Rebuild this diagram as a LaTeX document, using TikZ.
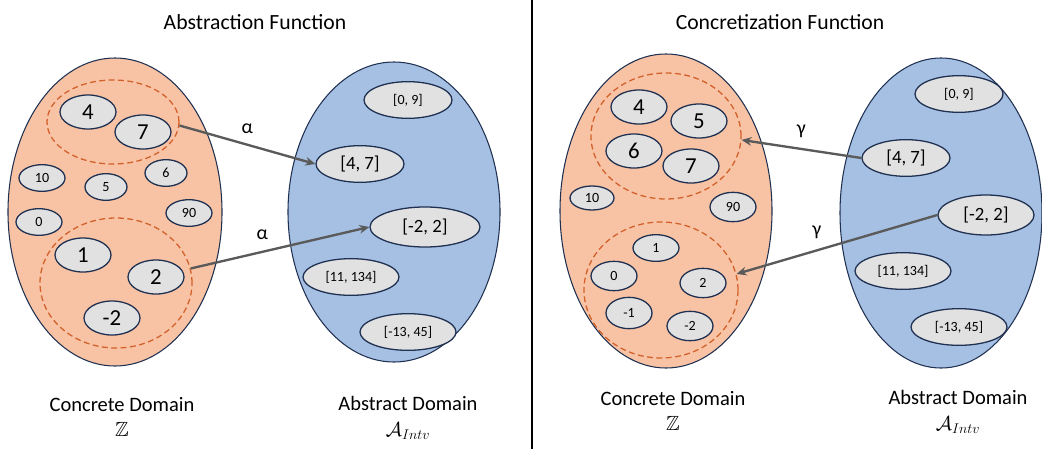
\documentclass[tikz,border=0pt]{standalone}
\usepackage{amsmath,amssymb}
\usepackage{fontspec}
\setmainfont{Carlito}
\usepackage{tikz}
\usetikzlibrary{arrows.meta,shapes.geometric}
\definecolor{edge}{HTML}{1F3050}
\definecolor{conc}{HTML}{F8C3A5}
\definecolor{abst}{HTML}{A6C0E3}
\definecolor{elfill}{HTML}{E1E1E2}
\definecolor{grpline}{HTML}{D2612B}
\definecolor{arr}{HTML}{5A5A5A}
\tikzset{
  dom/.style={ellipse, draw=edge, line width=0.9pt, inner sep=0pt},
  cdom/.style={dom, fill=conc},
  adom/.style={dom, fill=abst},
  el/.style={ellipse, draw=edge, line width=1.1pt, fill=elfill, inner sep=0pt,
             minimum width=1.38cm, minimum height=0.8cm, font=\fontsize{12}{13}\selectfont},
  bigel/.style={el, minimum width=1.68cm, minimum height=1.02cm, font=\fontsize{19.5}{21}\selectfont},
  ivl/.style={el, minimum width=2.64cm, minimum height=1.1cm},
  bigivl/.style={ivl, font=\fontsize{16}{18}\selectfont},
  grp/.style={ellipse, draw=grpline, line width=1.1pt, dash pattern=on 5pt off 3pt, inner sep=0pt},
  map/.style={-{Stealth[length=3mm,width=2.6mm]}, draw=arr, line width=2pt},
  lbl/.style={font=\fontsize{17}{19}\selectfont},
  ttl/.style={font=\fontsize{18.5}{20}\selectfont},
  domcap/.style={align=center, font=\fontsize{17.5}{22}\selectfont},
}
\begin{document}
\begin{tikzpicture}[x=0.03cm,y=-0.03cm]
  \useasboundingbox (0,0) rectangle (1042,449);
  \draw[line width=0.9pt] (532,0) coordinate (sepT) -- (532,449) coordinate (sepB);

  % abstraction side
  \node[ttl] (tA) at (255,22) {Abstraction Function};
  \node[cdom,minimum width=6.42cm,minimum height=9.24cm] (cA) at (115,212) {};
  \node[adom,minimum width=6.36cm,minimum height=9cm] (aA) at (394,212) {};
  \node[grp,minimum width=3.96cm,minimum height=2.52cm] (gA1) at (113,122) {};
  \node[grp,minimum width=4.56cm,minimum height=3.9cm] (gA2) at (116,283) {};
  \node[bigel] (a4) at (88,112) {4};
  \node[bigel] (a7) at (143,132) {7};
  \node[el] (a10) at (42,178) {10};
  \node[el,minimum width=1.26cm] (a5) at (106,187) {5};
  \node[el,minimum width=1.26cm] (a6) at (166,173) {6};
  \node[el] (a0) at (39,222) {0};
  \node[el] (a90) at (189,213) {90};
  \node[bigel] (a1) at (83,255) {1};
  \node[bigel] (a2) at (156,277) {2};
  \node[bigel] (am2) at (112,318) {-2};
  \node[ivl] (iA09) at (408,100) {[0, 9]};
  \node[bigivl] (iA47) at (360,164) {[4, 7]};
  \node[bigivl,minimum width=3.3cm,minimum height=1.2cm] (iAm22) at (425,227) {[-2, 2]};
  \node[ivl,minimum width=2.88cm] (iA11) at (351,277) {[11, 134]};
  \node[ivl,minimum width=2.88cm] (iAm13) at (408,332) {[-13, 45]};
  \draw[map] (gA1.-3) -- node[lbl,pos=0.5,above=5pt] {α} (iA47.west);
  \draw[map] (gA2.11) -- node[lbl,pos=0.4,above=6pt] {α} (iAm22.west);
  \node[domcap] (cAcap) at (122,417) {Concrete Domain\\$\mathbb{Z}$};
  \node[domcap] (aAcap) at (408,418) {Abstract Domain\\$\mathcal{A}_{Intv}$};

  % concretization side
  \node[ttl] (tC) at (780,22) {Concretization Function};
  \node[cdom,minimum width=6.36cm,minimum height=9.42cm] (cC) at (666,211) {};
  \node[adom,minimum width=6.06cm,minimum height=9.3cm] (aC) at (941,213) {};
  \node[grp,minimum width=4.5cm,minimum height=3.78cm] (gC1) at (666,136) {};
  \node[grp,minimum width=4.62cm,minimum height=4.08cm] (gC2) at (661,290) {};
  \node[bigel] (c4) at (639,107) {4};
  \node[bigel] (c5) at (699,121) {5};
  \node[bigel] (c6) at (634,151) {6};
  \node[bigel] (c7) at (691,166) {7};
  \node[el,minimum width=1.32cm,minimum height=0.72cm] (c10) at (592,198) {10};
  \node[el,minimum height=0.88cm] (c90) at (733,207) {90};
  \node[el] (c1) at (656,248) {1};
  \node[el,minimum height=0.88cm] (c0) at (614,276) {0};
  \node[el,minimum height=0.88cm] (c2) at (703,283) {2};
  \node[el,minimum height=0.94cm] (cm1) at (629,313) {-1};
  \node[el,minimum height=0.88cm] (cm2) at (690,326) {-2};
  \node[ivl] (iC09) at (959,94) {[0, 9]};
  \node[bigivl] (iC47) at (906,158) {[4, 7]};
  \node[bigivl,minimum width=2.88cm,minimum height=1.2cm] (iCm22) at (986,215) {[-2, 2]};
  \node[ivl,minimum width=2.88cm] (iC11) at (903,271) {[11, 134]};
  \node[ivl,minimum width=2.88cm] (iCm13) at (959,327) {[-13, 45]};
  \draw[map] (iC47.west) -- node[lbl,pos=0.5,above=5pt] {γ} (gC1.-3);
  \draw[map] (iCm22.west) -- node[lbl,pos=0.6,above=6pt] {γ} (gC2.12);
  \node[domcap] (cCcap) at (673,411) {Concrete Domain\\$\mathbb{Z}$};
  \node[domcap] (aCcap) at (958,412) {Abstract Domain\\$\mathcal{A}_{Intv}$};
\end{tikzpicture}
\end{document}
